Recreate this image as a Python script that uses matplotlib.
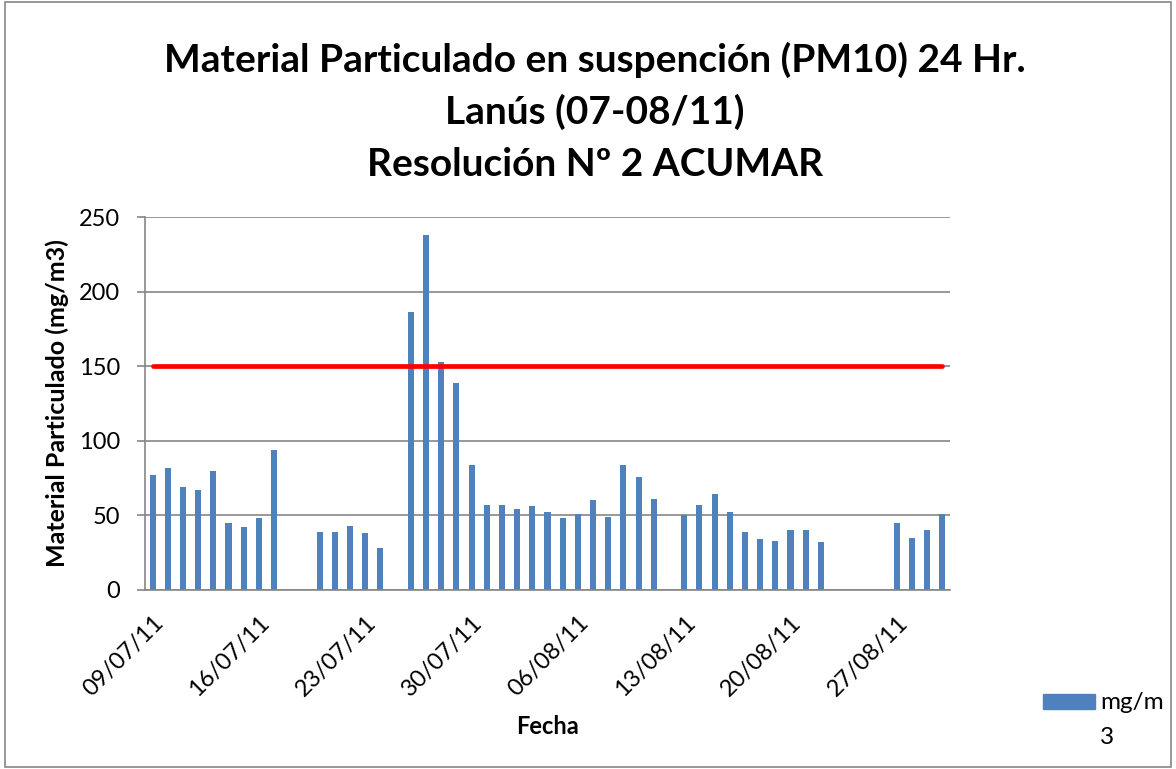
import pandas as pd
import matplotlib
matplotlib.use("Agg")
import matplotlib.pyplot as plt
from matplotlib.patches import Rectangle

plt.rcParams["font.family"] = ["Lato", "DejaVu Sans"]

# daily PM10 values (days without measurement are simply absent)
fechas = ["09/07/11", "10/07/11", "11/07/11", "12/07/11", "13/07/11", "14/07/11",
          "15/07/11", "16/07/11", "17/07/11", "20/07/11", "21/07/11", "22/07/11",
          "23/07/11", "24/07/11", "26/07/11", "27/07/11", "28/07/11", "29/07/11",
          "30/07/11", "31/07/11", "01/08/11", "02/08/11", "03/08/11", "04/08/11",
          "05/08/11", "06/08/11", "07/08/11", "08/08/11", "09/08/11", "10/08/11",
          "11/08/11", "13/08/11", "14/08/11", "15/08/11", "16/08/11", "17/08/11",
          "18/08/11", "19/08/11", "20/08/11", "21/08/11", "22/08/11", "27/08/11",
          "28/08/11", "29/08/11", "30/08/11"]
valores = [77, 82, 69, 67, 80, 45, 42, 48, 94, 39, 39, 43, 38, 28, 186, 238, 153,
           139, 84, 57, 57, 54, 56, 52, 48, 51, 60, 49, 84, 76, 61, 50, 57, 64, 52,
           39, 34, 33, 40, 40, 32, 45, 35, 40, 51]
limite = 150  # Resolucion N 2 ACUMAR
tick_fechas = ["09/07/11", "16/07/11", "23/07/11", "30/07/11", "06/08/11",
               "13/08/11", "20/08/11", "27/08/11"]
titulo = ["Material Particulado en suspención (PM10) 24 Hr.",
          "Lanús (07-08/11)",
          "Resolución Nº 2 ACUMAR"]

x = pd.to_datetime(fechas, format="%d/%m/%y")
xt = pd.to_datetime(tick_fechas, format="%d/%m/%y")
one = pd.Timedelta(days=1)
azul = "#4f81bd"

fig = plt.figure(figsize=(11.76, 7.69), dpi=100)
ax = fig.add_axes([0.1233, 0.2328, 0.6845, 0.485])
fig.patches.append(Rectangle((0.004, 0.002), 0.992, 0.996, transform=fig.transFigure,
                             fill=False, edgecolor="#868686", lw=1.2))

ax.bar(x, valores, width=0.4, color=azul, zorder=2)
ax.plot([x[0], x[-1]], [limite, limite], color="#ff0000", lw=3.4,
        solid_capstyle="round", zorder=3)

ax.set_xlim(x[0] - 0.5 * one, x[-1] + 0.5 * one)
ax.set_ylim(0, 250)
ax.set_yticks(range(0, 251, 50))
ax.set_xticks(xt)
ax.set_xticklabels(tick_fechas, rotation=45, ha="right", rotation_mode="anchor")
ax.tick_params(axis="x", length=0, pad=16, labelsize=17)
ax.tick_params(axis="y", length=6, width=1.2, color="#868686", pad=12, labelsize=17)
ax.grid(axis="y", color="#868686", lw=1.2, zorder=0)
for s in ["top", "right"]:
    ax.spines[s].set_visible(False)
for s in ["left", "bottom"]:
    ax.spines[s].set_color("#868686")
    ax.spines[s].set_linewidth(1.2)

ax.set_ylabel("Material Particulado (mg/m3)", fontsize=18, fontweight="bold")
ax.yaxis.set_label_coords(-0.094, 0.5)
ax.set_xlabel("Fecha", fontsize=17, fontweight="bold")
ax.xaxis.set_label_coords(0.5, -0.335)

for linea, yb in zip(titulo, [0.9064, 0.8388, 0.7711]):
    fig.text(0.506, yb, linea, ha="center", va="baseline", fontsize=28, fontweight="bold")

# legend drawn by hand: the label wraps under the swatch as in the original
fig.patches.append(Rectangle((0.8869, 0.078), 0.0442, 0.0195, transform=fig.transFigure,
                             color=azul))
fig.text(0.9354, 0.078, "mg/m", ha="left", va="baseline", fontsize=17.5)
fig.text(0.9354, 0.0325, "3", ha="left", va="baseline", fontsize=17.5)

fig.savefig("out.png", dpi=100)
